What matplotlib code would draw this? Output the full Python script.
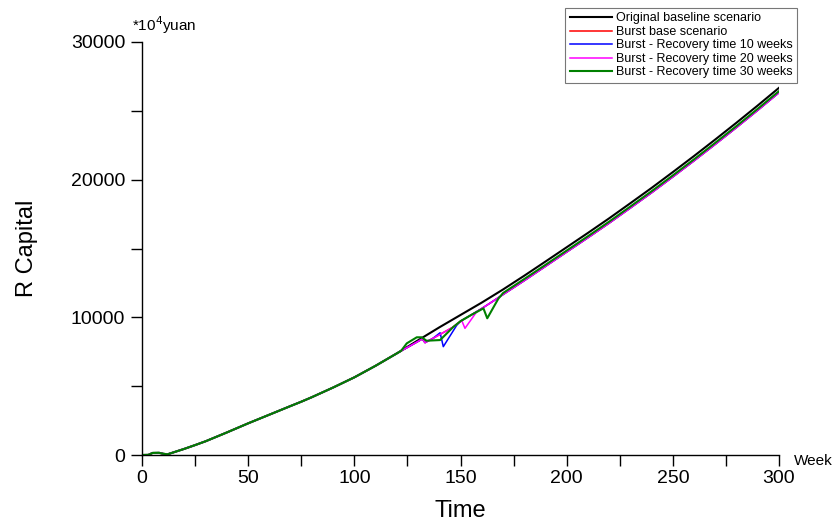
import matplotlib
matplotlib.use("Agg")
import matplotlib.pyplot as plt
from matplotlib.ticker import MultipleLocator

plt.rcParams['font.family'] = ['Liberation Sans', 'DejaVu Sans']

# shared part of every scenario (weeks 0-120)
weeks_pre = [0, 3, 5, 8, 10, 12, 15, 20, 25, 30, 40, 50, 60, 70, 75, 80, 90, 100, 110, 120]
capital_pre = [0, 10, 150, 160, 90, 50, 200, 450, 720, 1000, 1640, 2300, 2930, 3560, 3870,
               4200, 4900, 5640, 6480, 7380]

# original baseline after week 120
weeks_base = [130, 140, 150, 160, 170, 180, 190, 200, 210, 220, 230, 240, 250, 260, 270, 280, 290, 300]
capital_base = [8330, 9270, 10170, 11070, 12020, 13020, 14050, 15090, 16130, 17190, 18290,
                19400, 20550, 21720, 22920, 24140, 25390, 26670]

# tail common to burst / 10 / 20 week scenarios
weeks_tail = [190, 200, 210, 220, 230, 240, 250, 260, 270, 280, 290, 300]
capital_tail = [13700, 14740, 15780, 16840, 17940, 19050, 20200, 21370, 22570, 23790, 25040, 26320]

weeks_red = [122, 126, 130, 132, 133.3, 137, 146.6, 150, 155, 160, 165, 170, 180]
capital_red = [7560, 7900, 8250, 8430, 8160, 8470, 9300, 9720, 10170, 10640, 11140, 11650, 12660]

weeks_blue = [122, 126, 130, 132, 133.3, 137, 140.4, 141.9, 148.2, 150, 155, 160, 165, 170, 180]
capital_blue = [7560, 7900, 8250, 8430, 8160, 8470, 8880, 7870, 9420, 9720, 10170, 10640, 11140,
                11650, 12660]

weeks_mag = [122, 126, 130, 132, 133.3, 137, 146.6, 150.6, 152.1, 157.6, 160, 165, 170, 180]
capital_mag = [7560, 7900, 8250, 8430, 8160, 8470, 9300, 9760, 9200, 10400, 10640, 11140,
               11650, 12660]

weeks_green = [122, 124.7, 129.4, 131.7, 134, 140.4, 146.6, 150, 155, 160.8, 162.6, 167.8,
               170, 180, 190, 200, 210, 220, 230, 240, 250, 260, 270, 280, 290, 300]
capital_green = [7560, 8110, 8550, 8550, 8300, 8350, 9300, 9720, 10170, 10650, 9930, 11350,
                 11760, 12780, 13810, 14850, 15890, 16950, 18050, 19160, 20310, 21480, 22680,
                 23900, 25150, 26430]

labels = ["Original baseline scenario", "Burst base scenario",
          "Burst - Recovery time 10 weeks", "Burst - Recovery time 20 weeks",
          "Burst - Recovery time 30 weeks"]
colors = ["black", "#ff0000", "#0000ff", "#ff00ff", "#008000"]

fig = plt.figure(figsize=(8.33, 5.22), dpi=100)
ax = fig.add_axes([142 / 833, 1 - 455 / 522, (779 - 142) / 833, (455 - 42) / 522])

ax.plot(weeks_pre + weeks_base, capital_pre + capital_base, color=colors[0], lw=1.5, label=labels[0])
ax.plot(weeks_pre + weeks_red + weeks_tail, capital_pre + capital_red + capital_tail,
        color=colors[1], lw=1.1, label=labels[1])
ax.plot(weeks_pre + weeks_blue + weeks_tail, capital_pre + capital_blue + capital_tail,
        color=colors[2], lw=1.1, label=labels[2])
ax.plot(weeks_pre + weeks_mag + weeks_tail, capital_pre + capital_mag + capital_tail,
        color=colors[3], lw=1.1, label=labels[3])
ax.plot(weeks_pre + weeks_green, capital_pre + capital_green,
        color=colors[4], lw=1.5, label=labels[4])

ax.set_xlim(0, 300)
ax.set_ylim(0, 30000)
ax.xaxis.set_major_locator(MultipleLocator(50))
ax.xaxis.set_minor_locator(MultipleLocator(25))
ax.yaxis.set_major_locator(MultipleLocator(10000))
ax.yaxis.set_minor_locator(MultipleLocator(5000))
ax.tick_params(which='both', direction='out', length=8, width=1, labelsize=14)
ax.tick_params(axis='x', pad=3)
ax.tick_params(axis='y', pad=4)
for s in ('top', 'right'):
    ax.spines[s].set_visible(False)
for s in ('left', 'bottom'):
    ax.spines[s].set_linewidth(1)

ax.set_xlabel("Time", fontsize=17, labelpad=9)
ax.set_ylabel("R Capital", fontsize=17, labelpad=24)

fig.text(132 / 833, 1 - 25 / 522, r"*10$^{4}$yuan", fontsize=11, va='center', ha='left')
fig.text(794 / 833, 1 - 461 / 522, "Week", fontsize=11, va='center', ha='left')

leg = fig.legend(loc='upper right', bbox_to_anchor=(797 / 833, 1 - 8 / 522), fontsize=9,
                 frameon=True, fancybox=False, borderaxespad=0, handlelength=3.4,
                 handletextpad=0.3, labelspacing=0.12, borderpad=0.35)
leg.get_frame().set_edgecolor('#555555')
leg.get_frame().set_linewidth(0.8)

fig.savefig("out.png", dpi=100)
